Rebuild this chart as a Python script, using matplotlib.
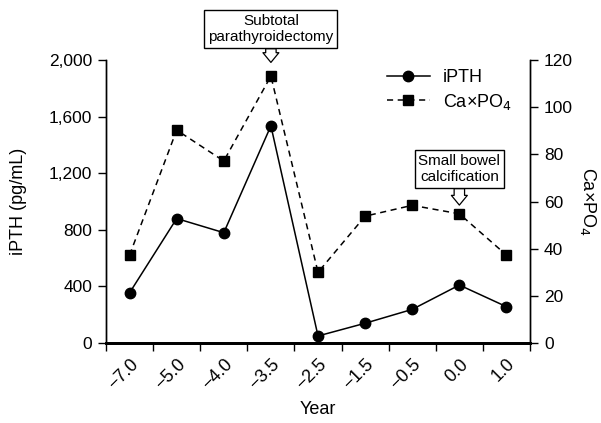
import matplotlib
matplotlib.use("Agg")
import matplotlib.pyplot as plt

plt.rcParams["font.family"] = ["Liberation Sans", "DejaVu Sans"]

# data
years = ["\u22127.0", "\u22125.0", "\u22124.0", "\u22123.5", "\u22122.5",
         "\u22121.5", "\u22120.5", "0.0", "1.0"]
ipth = [355, 880, 780, 1535, 50, 140, 238, 410, 257]
caxpo4 = [37.3, 90.3, 77.2, 113.2, 30.0, 53.8, 58.4, 54.8, 37.3]

x = list(range(len(years)))

fig = plt.figure(figsize=(6.01, 4.23), dpi=100)
ax = fig.add_axes([0.1764, 0.189, 0.7055, 0.669])
ax2 = ax.twinx()

ln1, = ax.plot(x, ipth, "-o", color="black", lw=1.1, markersize=7.5, label="iPTH")
ln2, = ax2.plot(x, caxpo4, "--s", color="black", lw=1.1, markersize=6.5,
                dashes=(4, 3), label="Ca\u00d7PO$_4$")

ax.set_xlim(-0.5, len(years) - 0.5)
ax.set_ylim(0, 2000)
ax2.set_ylim(0, 120)

ax.set_yticks([0, 400, 800, 1200, 1600, 2000])
ax.set_yticklabels(["0", "400", "800", "1,200", "1,600", "2,000"])
ax2.set_yticks([0, 20, 40, 60, 80, 100, 120])

# labels at centres, tick marks at boundaries
ax.set_xticks(x)
ax.set_xticklabels(years, rotation=45, ha="right", rotation_mode="anchor")
ax.set_xticks([i - 0.5 for i in range(len(years) + 1)], minor=True)
ax.tick_params(axis="x", which="major", length=0, pad=9, labelsize=13)
ax.tick_params(axis="x", which="minor", length=6, width=1)
ax.tick_params(axis="y", length=6, width=1, labelsize=12.5, pad=4)
ax2.tick_params(axis="y", length=6, width=1, labelsize=12.5, pad=4)

for a in (ax, ax2):
    a.spines["top"].set_visible(False)
    a.spines["left"].set_linewidth(1)
    a.spines["right"].set_linewidth(1)
    a.spines["bottom"].set_linewidth(2)

ax.set_xlabel("Year", fontsize=13, labelpad=6)
ax.set_ylabel("iPTH (pg/mL)", fontsize=13, labelpad=16)
ax2.set_ylabel("Ca\u00d7PO$_4$", fontsize=13, rotation=270, labelpad=18)

leg = ax.legend([ln1, ln2], ["iPTH", "Ca\u00d7PO$_4$"], loc="upper right",
                bbox_to_anchor=(0.995, 1.025), frameon=False, fontsize=13,
                handlelength=2.4, handletextpad=0.7, labelspacing=0.3)

arrow = dict(arrowstyle="simple,head_length=0.7,head_width=1.15,tail_width=0.75",
             mutation_scale=10, fc="white", ec="black", lw=0.9,
             shrinkA=0, shrinkB=0)
box = dict(boxstyle="square,pad=0.25", fc="white", ec="black", lw=1)

ax2.annotate("Subtotal\nparathyroidectomy", xy=(3, 119), xytext=(0, 13),
             textcoords="offset points", ha="center", va="bottom", fontsize=11,
             bbox=box, arrowprops=arrow, annotation_clip=False, linespacing=1.25)
ax2.annotate("Small bowel\ncalcification", xy=(7, 58.5), xytext=(0, 15),
             textcoords="offset points", ha="center", va="bottom", fontsize=11,
             bbox=box, arrowprops=arrow, annotation_clip=False, linespacing=1.25)

fig.savefig("out.png", dpi=100)
